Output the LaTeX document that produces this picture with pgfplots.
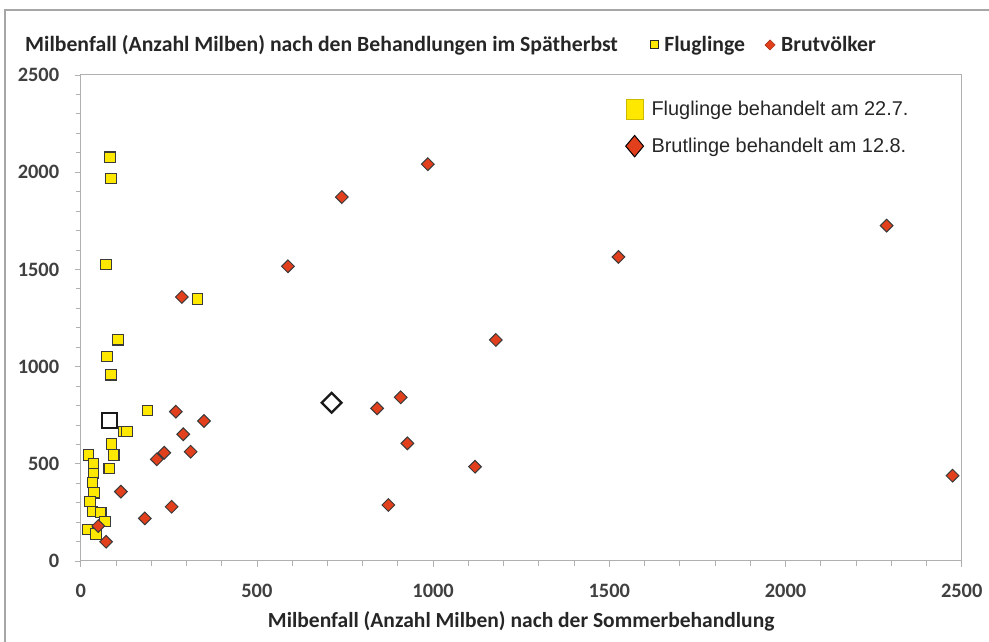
\documentclass[border=0pt]{standalone}
\usepackage{pgfplots}
\pgfplotsset{compat=1.18}
\usepackage{fontspec}
\setmainfont{Carlito}
\newfontfamily\arial{Liberation Sans}
\definecolor{fy}{HTML}{FFE800}
\definecolor{fr}{HTML}{E2401C}
\definecolor{axgray}{HTML}{B0B0B0}
\definecolor{lblgray}{HTML}{404040}
\definecolor{mkborder}{HTML}{3A3A3A}

\pgfplotstableread{
x y
189 773
121 665
131 665
88 602
94 545
81 477
22 545
36 502
36 451
33 403
38 351
26 305
33 254
57 249
69 202
19 163
43 139
83 2077
86 1967
72 1524
331 1348
106 1138
75 1051
86 958
}\flug

\pgfplotstableread{
x y
270 768
350 720
291 652
237 557
216 523
312 562
114 357
258 279
182 219
50 180
72 99
287 1358
588 1516
741 1872
985 2041
1526 1564
1178 1137
841 785
908 842
927 605
1119 485
873 288
2287 1725
2474 439
}\brut

\begin{document}
\begin{tikzpicture}[x=1bp,y=1bp]
\path[use as bounding box] (0,0) rectangle (989,642);
\draw[color=black!35, line width=1.5bp] (5,0) -- (5,632) -- (989,632);
\node[anchor=west, font=\bfseries\fontsize{21.8}{24}\selectfont, text=black!85, inner sep=0] at (25,597) {Milbenfall (Anzahl Milben) nach den Behandlungen im Spätherbst};

\begin{axis}[
  at={(80.7bp,81bp)}, anchor=south west, scale only axis,
  width=881bp, height=486bp,
  xmin=0, xmax=2500, ymin=0, ymax=2500,
  xtick={0,500,...,2500}, ytick={0,500,...,2500},
  minor tick num=4,
  tick align=outside, xtick pos=left, ytick pos=left,
  major tick length=6bp, minor tick length=5bp,
  every tick/.style={axgray, line width=0.8bp},
  axis line style={axgray, line width=1bp},
  /pgf/number format/assume math mode=true,
  /pgf/number format/1000 sep={},
  ticklabel style={font=\bfseries\fontsize{20.5}{22}\selectfont, text=lblgray},
  yticklabel style={xshift=-12bp},
  xticklabel style={yshift=-14bp},
  xlabel={Milbenfall (Anzahl Milben) nach der Sommerbehandlung},
  xlabel style={font=\bfseries\fontsize{21.6}{24}\selectfont, text=black!85,
    at={(axis description cs:0.5,0)}, anchor=center, yshift=-60bp},
  legend cell align=left,
  legend style={draw=none, fill=none, at={(0.615,0.955)}, anchor=north west,
    font=\arial\fontsize{20}{22}\selectfont, text=black!85, row sep=16bp,
    /tikz/every even column/.append style={column sep=4bp},
    nodes={inner xsep=8bp}},
]
\addlegendimage{only marks, mark=square*, mark size=8.5bp, mark options={yscale=1.2, fill=fy, draw=fy!80!black, line width=0.5bp}}
\addlegendentry{Fluglinge behandelt am 22.7.}
\addlegendimage{only marks, mark=square*, mark size=6.3bp, mark options={yscale=1.2, rotate=45, fill=fr, draw=black, line width=1bp}}
\addlegendentry{Brutlinge behandelt am 12.8.}

\addplot[only marks, mark=square*, mark size=5.2bp, mark options={fill=fy, draw=mkborder, line width=1.1bp}, forget plot] table {\flug};
\addplot[only marks, mark=square*, mark size=4.5bp, mark options={rotate=45, fill=fr, draw=mkborder, line width=1bp}, forget plot] table {\brut};
\addplot[only marks, mark=square, mark size=7.5bp, mark options={draw=black!90, fill=white, line width=2.2bp}, forget plot] coordinates {(81,722)};
\addplot[only marks, mark=square, mark size=7bp, mark options={rotate=45, draw=black!90, fill=white, line width=2.2bp}, forget plot] coordinates {(712,814)};
\end{axis}

\begin{axis}[
  at={(80.7bp,81bp)}, anchor=south west, scale only axis,
  width=881bp, height=486bp,
  xmin=0, xmax=1, ymin=0, ymax=1,
  hide axis,
  legend columns=2,
  legend style={draw=none, fill=none, at={(0.643,1.0617)}, anchor=west,
    font=\bfseries\fontsize{21.8}{24}\selectfont, text=black!85,
    nodes={inner xsep=6bp},
    /tikz/every even column/.append style={column sep=14bp}},
]
\addlegendimage{only marks, mark=square*, mark size=4bp, mark options={fill=fy, draw=black!85, line width=1bp}}
\addlegendentry{Fluglinge}
\addlegendimage{only marks, mark=square*, mark size=3.6bp, mark options={rotate=45, fill=fr, draw=fr!70!black, line width=0.5bp}}
\addlegendentry{Brutvölker}
\end{axis}
\end{tikzpicture}
\end{document}
